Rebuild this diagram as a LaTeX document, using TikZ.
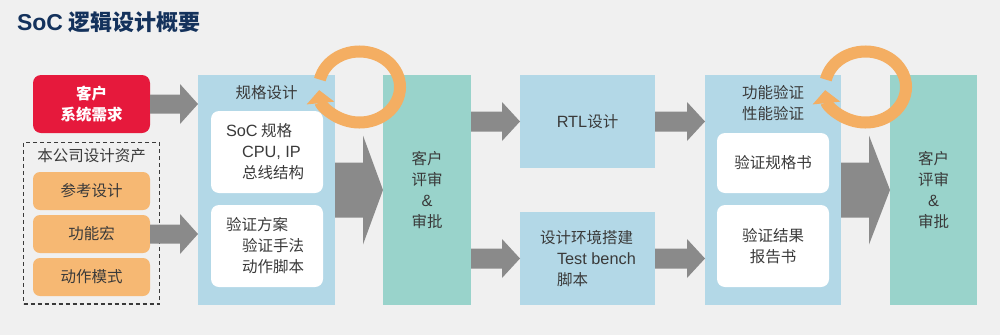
\documentclass[tikz,border=0pt]{standalone}
\usepackage{fontspec}
\setmainfont{Noto Sans CJK SC}
\newfontfamily\latf{Liberation Sans}
\newcommand\lat[1]{{\latf\fontsize{16.3}{21}\selectfont #1}}
\usetikzlibrary{calc,arrows.meta}
\definecolor{bg}{HTML}{F0F0F0}
\definecolor{navy}{HTML}{14325C}
\definecolor{txt}{HTML}{3A3A3A}
\definecolor{redbox}{HTML}{E6193C}
\definecolor{orangebox}{HTML}{F6B873}
\definecolor{ring}{HTML}{F4AE62}
\definecolor{lblue}{HTML}{B3D8E7}
\definecolor{lgreen}{HTML}{99D3CB}
\definecolor{arrowgray}{HTML}{8A8A8A}
\newcommand\fatarr[5]{%
  \fill[arrowgray] let \p1=(#1), \p2=(#2) in
    (\x1,\y1+#3pt) -- (\x2-#5pt,\y1+#3pt) -- (\x2-#5pt,\y1+#4pt) -- (\x2,\y1)
    -- (\x2-#5pt,\y1-#4pt) -- (\x2-#5pt,\y1-#3pt) -- (\x1,\y1-#3pt) -- cycle;}
\begin{document}
\begin{tikzpicture}[x=1pt,y=-1pt,
  every node/.style={inner sep=0pt, outer sep=0pt, text=txt, font=\fontsize{15.5}{21}\selectfont},
  bluepanel/.style={fill=lblue, minimum width=#1},
  greenpanel/.style={fill=lgreen, minimum width=#1, minimum height=230pt, align=center},
  whitebox/.style={fill=white, rounded corners=8pt, minimum width=112pt},
  orangebtn/.style={fill=orangebox, rounded corners=7pt, minimum width=117pt, minimum height=38pt},
  ringarrow/.style={draw=ring, line width=12pt, -{Triangle[width=27pt,length=13pt]}}
]
\fill[bg] (0,0) rectangle (1000,335);
\useasboundingbox (0,0) rectangle (1000,335);

% title
\node[anchor=west, text=navy, font=\fontsize{22}{26}\bfseries] (title) at (17,22) {{\latf\fontsize{23}{26}\selectfont SoC} 逻辑设计概要};

% left column
\node[fill=redbox, rounded corners=8pt, minimum width=117pt, minimum height=58pt,
      text=white, font=\fontsize{15.5}{21}\bfseries, align=center] (req) at (91.5,104) {客户\\系统需求};
\node[draw=txt, dash pattern=on 4pt off 3pt, line width=1.1pt, minimum width=136pt, minimum height=161.5pt] (assets) at (91.5,223.2) {};
\node (assetlbl) at (91.5,156) {本公司设计资产};
\node[orangebtn] (ref) at (91.5,191) {参考设计};
\node[orangebtn] (macro) at (91.5,234) {功能宏};
\node[orangebtn] (mode) at (91.5,277) {动作模式};

% spec panel
\node[bluepanel=137pt, minimum height=230pt] (spec) at (266.5,190) {};
\node (spectitle) at (266.5,93) {规格设计};
\node[whitebox, minimum height=82pt] (sw1) at (267,152) {};
\node[anchor=west, align=left] (sw1t) at ($(sw1.west)+(15,0)$) {\lat{SoC} 规格\\\hspace*{16pt}\lat{CPU, IP}\\\hspace*{16pt}总线结构};
\node[whitebox, minimum height=82pt] (sw2) at (267,246) {};
\node[anchor=west, align=left] (sw2t) at ($(sw2.west)+(15,0)$) {验证方案\\\hspace*{16pt}验证手法\\\hspace*{16pt}动作脚本};

% review 1
\node[greenpanel=88pt] (rev1) at (427,190) {客户\\评审\\\lat{\&}\\审批};

% RTL and env
\node[bluepanel=135pt, minimum height=93pt] (rtl) at (587.5,121.5) {\lat{RTL}设计};
\node[bluepanel=135pt, minimum height=93pt] (env) at (587.5,258.5) {};
\node[anchor=west, align=left] (envt) at ($(env.west)+(20,0)$) {设计环境搭建\\\hspace*{17pt}\lat{Test bench}\\\hspace*{17pt}脚本};

% verification panel
\node[bluepanel=136pt, minimum height=230pt] (ver) at (773,190) {};
\node[align=center] (vertitle) at (773,103) {功能验证\\性能验证};
\node[whitebox, minimum height=60pt] (vw1) at (773,163) {验证规格书};
\node[whitebox, minimum height=82pt, align=center] (vw2) at (773,246) {验证结果\\报告书};

% review 2
\node[greenpanel=87pt] (rev2) at (933.5,190) {客户\\评审\\\lat{\&}\\审批};

% fat arrows
\fatarr{req.east}{spec.west}{9.5}{20}{18}
\fatarr{macro.east}{spec.west}{9.5}{20}{18}
\fatarr{spec.east}{rev1.west}{27.5}{54.5}{20}
\fatarr{rev1.east|-rtl.west}{rtl.west}{10}{19.5}{18}
\fatarr{rev1.east|-env.west}{env.west}{10}{19.5}{18}
\fatarr{rtl.east}{ver.west}{10}{19.5}{18}
\fatarr{env.east}{ver.west}{10}{19.5}{18}
\fatarr{ver.east}{rev2.west}{27.5}{54.5}{21}

% review loops
\coordinate (c1) at (359.5,87);
\coordinate (c2) at (865.5,87);
\draw[ringarrow] (c1) ++(192:40.5 and 35.5) arc[start angle=192, end angle=535, x radius=40.5, y radius=35.5];
\draw[ringarrow] (c2) ++(192:40.5 and 35.5) arc[start angle=192, end angle=535, x radius=40.5, y radius=35.5];
\end{tikzpicture}
\end{document}
